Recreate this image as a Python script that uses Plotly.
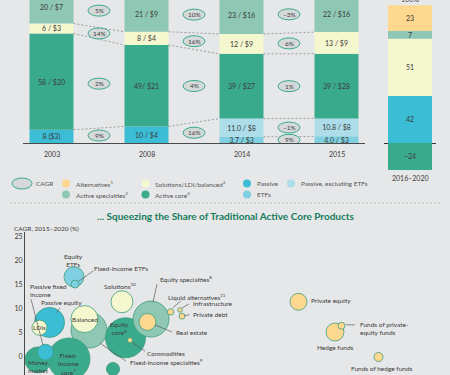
import plotly.graph_objects as go

W, H = 450, 375
BG = "#e6e7e8"
FONT = "Lato"
TXT = "#3b3b3b"

# ---------------- Top panel data: share of global AuM (%) / AuM ($trillions) ----------------
years = ["2003", "2008", "2014", "2015"]
passive = [8, 10, None, None]
etfs = [None, None, 3.7, 4.0]
passive_ex_etfs = [None, None, 11.0, 10.8]
active_core = [58, 49, 39, 39]
solutions = [6, 8, 12, 13]
active_specialties = [20, 21, 23, 22]
alternatives = [8, 12, 11, 11]

passive_labels = ["8 ($3)", "10 / $4", None, None]
etf_labels = [None, None, "3.7 / $3", "4.0 / $3"]
passive_ex_labels = [None, None, "11.0 / $8", "10.8 / $8"]
core_labels = ["58 / $20", "49/ $21", "39 / $27", "39 / $28"]
solutions_labels = ["6 / $3", "8 / $4", "12 / $9", "13 / $9"]
specialties_labels = ["20 / $7", "21 / $9", "23 / $16", "22 / $16"]
alternatives_labels = [None, None, None, None]

# CAGR between periods (%)
cagr_2003_2008 = [9, 2, 14, 5]          # passive, active core, solutions, active specialties
cagr_2008_2014 = [16, 4, 16, 10]        # passive, active core, solutions, active specialties
cagr_2014_2015 = [9, -1, 1, 6, -3]      # ETFs, passive excl. ETFs, active core, solutions, specialties

# 2016–2020 share of net new flows (%)
flow_period = "2016–2020"
flow_passive = 42
flow_core = -24
flow_solutions = 51
flow_specialties = 7
flow_alternatives = 23
flow_total_label = "100%"

# ---------------- Bottom panel data ----------------
b_names = ["Fixed-income specialties", "Fixed-income core", "Money market", "Other active core",
           "Equity core", "Equity specialties", "Passive equity", "Passive fixed income",
           "LDIs", "Balanced", "Solutions", "Equity ETFs", "Fixed-income ETFs",
           "Real estate", "Commodities", "Liquid alternatives", "Infrastructure", "Private debt",
           "Private equity", "Hedge funds", "Funds of private-equity funds", "Funds of hedge funds"]
b_group = ["spec", "core", "core", "core", "core", "spec", "passive", "passive",
           "sol", "sol", "sol", "etf", "etf",
           "alt", "alt", "alt", "alt", "alt", "alt", "alt", "alt", "alt"]
b_fee = [12.8, 8.8, 2.6, 17.6, 20.1, 25.2, 4.9, 4.1, 2.9, 11.9, 19.4, 9.8, 10.0,
         24.5, 21.0, 29.1, 31.0, 31.4, 54.7, 62.0, 63.3, 70.7]
b_cagr = [5.6, -0.4, -0.6, -2.5, 4.0, 7.9, 7.2, 1.0, 6.1, 7.9, 11.5, 16.7, 15.2,
          7.3, 3.5, 9.4, 9.8, 8.5, 11.5, 5.2, 6.5, 0.0]
b_aum = [11.3, 15.4, 5.9, 1.5, 14.0, 11.3, 7.9, 2.2, 2.0, 6.4, 4.2, 3.5, 0.56,
         2.5, 0.22, 0.37, 0.18, 0.31, 2.5, 2.8, 0.43, 0.71]
y_ticks = [0, 5, 10, 15, 20, 25]

C = {"alt": "#fdd88e", "spec": "#8ec7b3", "sol": "#f5f7cf", "core": "#3aaa8c",
     "passive": "#3cbdd6", "etf": "#7fd0e1", "passive_ex": "#acdde9"}

# ---------------- geometry helpers ----------------
def px(p):
    return p / W

def py(p):
    return 1 - p / H

TOP_SCALE = 1.66   # px per point, main bars
FLOW_SCALE = 1.12  # px per point, flow bar
BASE = 143         # baseline pixel
BW = 0.463
BUB_SCALE = 10.7   # bubble diameter px per sqrt($tn)

fig = go.Figure()

series = [
    ("Passive", passive, passive_labels, C["passive"]),
    ("ETFs", etfs, etf_labels, C["etf"]),
    ("Passive, excluding ETFs", passive_ex_etfs, passive_ex_labels, C["passive_ex"]),
    ("Active core", active_core, core_labels, C["core"]),
    ("Solutions/LDI/balanced", solutions, solutions_labels, C["sol"]),
    ("Active specialties", active_specialties, specialties_labels, C["spec"]),
    ("Alternatives", alternatives, alternatives_labels, C["alt"]),
]
xpos = list(range(len(years)))
for name, vals, labs, col in series:
    fig.add_trace(go.Bar(
        x=xpos, y=vals, name=name, text=labs, width=BW, marker=dict(color=col, line=dict(width=0)),
        textposition="inside", insidetextanchor="middle", textangle=0,
        textfont=dict(size=7, color=TXT, family=FONT), hoverinfo="skip",
        xaxis="x", yaxis="y"))

# stack bounds
bounds = []
base = [0.0] * len(years)
for _, vals, _, _ in series:
    b = []
    for i, v in enumerate(vals):
        v = v or 0
        b.append((base[i], base[i] + v))
        base[i] += v
    bounds.append(b)

def seg_center(lo, hi, i):
    return (bounds[lo][i][0] + bounds[hi][i][1]) / 2

# dashed connectors between bars
conn = [(0, [2, 3, 4]), (1, [2, 3, 4]), (2, [1, 2, 3, 4])]
for i, idxs in conn:
    for k in idxs:
        fig.add_trace(go.Scatter(
            x=[i + BW / 2, i + 1 - BW / 2], y=[bounds[k][i][1], bounds[k][i + 1][1]],
            mode="lines", line=dict(color="#8a8a8a", width=0.8, dash="2px,2px"),
            hoverinfo="skip", xaxis="x", yaxis="y"))

shapes = []
annotations = []

# year labels
for i, yr in enumerate(years):
    annotations.append(dict(x=i, y=0, xref="x", yref="y", text=yr, showarrow=False,
                            yanchor="top", yshift=-5, font=dict(size=7, color=TXT, family=FONT)))

# CAGR ellipses
cagr_specs = [
    (0, cagr_2003_2008, [(0, 2), (3, 3), (4, 4), (5, 5)]),
    (1, cagr_2008_2014, [(0, 2), (3, 3), (4, 4), (5, 5)]),
    (2, cagr_2014_2015, [(1, 1), (2, 2), (3, 3), (4, 4), (5, 5)]),
]
for i, vals, segs in cagr_specs:
    for v, (lo, hi) in zip(vals, segs):
        yc = (seg_center(lo, hi, i) + seg_center(lo, hi, i + 1)) / 2
        xc = i + 0.5
        shapes.append(dict(type="circle", xref="x", yref="y", xsizemode="pixel", ysizemode="pixel",
                           xanchor=xc, yanchor=yc, x0=-11, x1=11, y0=-5.5, y1=5.5,
                           fillcolor="#d6d9da", line=dict(color="#3aaa8c", width=1), layer="above"))
        label = (f"{v}%" if v >= 0 else f"\u2212{abs(v)}%")
        annotations.append(dict(x=xc, y=yc, xref="x", yref="y", text=label, showarrow=False,
                                font=dict(size=6.5, color=TXT, family=FONT)))

# 2016–2020 flow bar
flow_series = [
    (flow_passive, C["passive"]), (flow_core, C["core"]), (flow_solutions, C["sol"]),
    (flow_specialties, C["spec"]), (flow_alternatives, C["alt"]),
]
for v, col in flow_series:
    fig.add_trace(go.Bar(
        x=[0], y=[v], text=[(str(v) if v >= 0 else f"\u2212{abs(v)}")], width=0.846,
        marker=dict(color=col, line=dict(width=0)), textposition="inside",
        insidetextanchor="middle", textangle=0, textfont=dict(size=7, color=TXT, family=FONT),
        hoverinfo="skip", xaxis="x2", yaxis="y2"))
pos_total = sum(v for v, _ in flow_series if v > 0)
neg_total = sum(v for v, _ in flow_series if v < 0)
annotations.append(dict(x=0, y=pos_total, xref="x2", yref="y2", text=flow_total_label,
                        showarrow=False, yanchor="bottom", yshift=0,
                        font=dict(size=7, color=TXT, family=FONT)))
annotations.append(dict(x=0, y=neg_total, xref="x2", yref="y2", text=flow_period,
                        showarrow=False, yanchor="top", yshift=-2,
                        font=dict(size=7, color=TXT, family=FONT)))

# ---------------- Legend ----------------
LROW1, LROW2 = 183.5, 194.5
shapes.append(dict(type="circle", xref="paper", yref="paper", xsizemode="pixel", ysizemode="pixel",
                   xanchor=px(22), yanchor=py(LROW1), x0=-10, x1=10, y0=-5.5, y1=5.5,
                   fillcolor="#d6d9da", line=dict(color="#3aaa8c", width=1)))
annotations.append(dict(x=px(34), y=py(LROW1), xref="paper", yref="paper", text="CAGR",
                        showarrow=False, xanchor="left", font=dict(size=6.5, color="#555", family=FONT)))
legend_items = [
    ("Alternatives<sup>1</sup>", C["alt"], 66, LROW1),
    ("Solutions/LDI/balanced<sup>3</sup>", C["sol"], 145.5, LROW1),
    ("Passive", C["passive"], 247, LROW1),
    ("Passive, excluding ETFs", C["passive_ex"], 291, LROW1),
    ("Active specialties<sup>2</sup>", C["spec"], 66, LROW2),
    ("Active core<sup>4</sup>", C["core"], 145.5, LROW2),
    ("ETFs", C["etf"], 247, LROW2),
]
for lab, col, xx, yy in legend_items:
    shapes.append(dict(type="circle", xref="paper", yref="paper", xsizemode="pixel", ysizemode="pixel",
                       xanchor=px(xx), yanchor=py(yy), x0=-4, x1=4, y0=-4, y1=4,
                       fillcolor=col, line=dict(width=0)))
    annotations.append(dict(x=px(xx + 7.5), y=py(yy), xref="paper", yref="paper", text=lab,
                            showarrow=False, xanchor="left",
                            font=dict(size=6.5, color="#555", family=FONT)))

# separator
shapes.append(dict(type="line", xref="paper", yref="paper", x0=px(10), x1=px(440), y0=py(203), y1=py(203),
                   line=dict(color="#a9cfc2", width=1, dash="2px,2px")))
annotations.append(dict(x=px(226), y=py(216), xref="paper", yref="paper",
                        text="<b>... Squeezing the Share of Traditional Active Core Products</b>",
                        showarrow=False, font=dict(size=10, color="#167c5d", family=FONT)))
annotations.append(dict(x=px(12), y=py(228), xref="paper", yref="paper", text="CAGR, 2015–2020 (%)",
                        showarrow=False, xanchor="left", font=dict(size=6.5, color=TXT, family=FONT)))

# ---------------- Bubble chart ----------------
fig.add_trace(go.Scatter(
    x=b_fee, y=b_cagr, mode="markers", hoverinfo="skip",
    marker=dict(size=b_aum, sizemode="area", sizeref=2 / BUB_SCALE ** 2,
                color=[C[g] for g in b_group], opacity=1,
                line=dict(color="#3f9c7c", width=0.8)),
    xaxis="x3", yaxis="y3"))

# label specs: name -> (text, dx, dy, xanchor, leader (sx, sy, ex, ey) in screen px offsets)
label_specs = {
    "Fixed-income specialties": ("Fixed-income specialties<sup>9</sup>", 39, 32, "left", (11, 13, 37, 31)),
    "Fixed-income core": ("Fixed-<br>income<br>core<sup>7</sup>", -1, 5.5, "center", None),
    "Money market": ("Money<br>market", 0, 6.5, "center", None),
    "Equity core": ("Equity<br>core<sup>8</sup>", -6.5, -9.5, "center", None),
    "Equity specialties": ("Equity specialties<sup>8</sup>", 7, -40, "left", (2, -17, 6, -35)),
    "Passive equity": ("Passive equity", 11.5, -19.5, "center", (6.5, -9.5, 10.5, -14.5)),
    "Passive fixed income": ("Passive fixed<br>income", -17.5, -62, "left", (-2.5, -7, -14.5, -53)),
    "LDIs": ("LDIs", 0, 0, "center", None),
    "Balanced": ("Balanced", 0, 0, "center", None),
    "Solutions": ("Solutions<sup>10</sup>", -2, -16, "center", None),
    "Equity ETFs": ("Equity<br>ETFs", -1, -16.5, "center", None),
    "Fixed-income ETFs": ("Fixed-income ETFs", 17, -16, "left", (4, -3, 18, -13)),
    "Real estate": ("Real estate", 26.5, 11, "left", (7.5, 3, 24.5, 10)),
    "Commodities": ("Commodities", 15, 13, "left", (2, 2, 15, 11)),
    "Liquid alternatives": ("Liquid alternatives<sup>11</sup>", -4.7, -15, "left", (2.3, -4, 10.3, -11)),
    "Infrastructure": ("Infrastructure", 11, -6.7, "left", (2, -2, 9, -6)),
    "Private debt": ("Private debt", 9.3, -1.5, "left", (2.5, -0.5, 7.5, -1.5)),
    "Private equity": ("Private equity", 10.5, -1, "left", None),
    "Hedge funds": ("Hedge funds", 0.5, 15, "center", None),
    "Funds of private-equity funds": ("Funds of private-<br>equity funds", 16.3, 2.5, "left", (4.3, -1, 13.3, -1)),
    "Funds of hedge funds": ("Funds of hedge funds", 3.8, 11, "center", None),
}
for name, xv, yv in zip(b_names, b_fee, b_cagr):
    if name not in label_specs:
        continue
    text, dx, dy, xa, lead = label_specs[name]
    annotations.append(dict(x=xv, y=yv, xref="x3", yref="y3", text=text, showarrow=False,
                            xanchor=xa, xshift=dx, yshift=-dy, align="left" if xa == "left" else "center",
                            font=dict(size=6.5, color=TXT, family=FONT)))
    if lead:
        sx, sy, ex, ey = lead
        shapes.append(dict(type="line", xref="x3", yref="y3", xsizemode="pixel", ysizemode="pixel",
                           xanchor=xv, yanchor=yv, x0=sx, x1=ex, y0=-sy, y1=-ey,
                           line=dict(color="#5a5a5a", width=0.7)))

fig.update_layout(
    width=W, height=H, margin=dict(l=0, r=0, t=0, b=0),
    paper_bgcolor=BG, plot_bgcolor=BG, showlegend=False, barmode="relative",
    font=dict(family=FONT, color=TXT),
    uniformtext=dict(minsize=7, mode="show"),
    xaxis=dict(domain=[px(23), px(365)], range=[-0.3, 3.3], showticklabels=False,
               showline=True, linecolor="#4a4a4a", linewidth=1, showgrid=False, zeroline=False,
               ticks="", anchor="y"),
    yaxis=dict(domain=[py(BASE), 1], range=[0, BASE / TOP_SCALE], visible=False, anchor="x"),
    xaxis2=dict(domain=[px(384), px(436)], range=[-0.5, 0.5], showticklabels=False,
                showline=False, showgrid=False, zeroline=False, ticks="", anchor="y2"),
    yaxis2=dict(domain=[py(170), 1], range=[-27 / FLOW_SCALE, BASE / FLOW_SCALE], showgrid=False,
                zeroline=True, zerolinecolor="#333", zerolinewidth=1, showticklabels=False,
                ticks="", showline=False, anchor="x2"),
    xaxis3=dict(domain=[px(25), 1], range=[0, 85], visible=False, anchor="y3"),
    yaxis3=dict(domain=[0, py(232)], range=[(357 - 375) / 4.8, (357 - 232) / 4.8], tickvals=y_ticks,
                showline=True, linecolor="#4a4a4a", linewidth=1, showgrid=False, zeroline=False,
                ticks="", tickfont=dict(size=7, color=TXT, family=FONT), anchor="x3"),
    shapes=shapes, annotations=annotations,
)

fig.write_html("out.html", config={"displayModeBar": False, "staticPlot": True},
               post_script="document.body.style.margin='0px';")
